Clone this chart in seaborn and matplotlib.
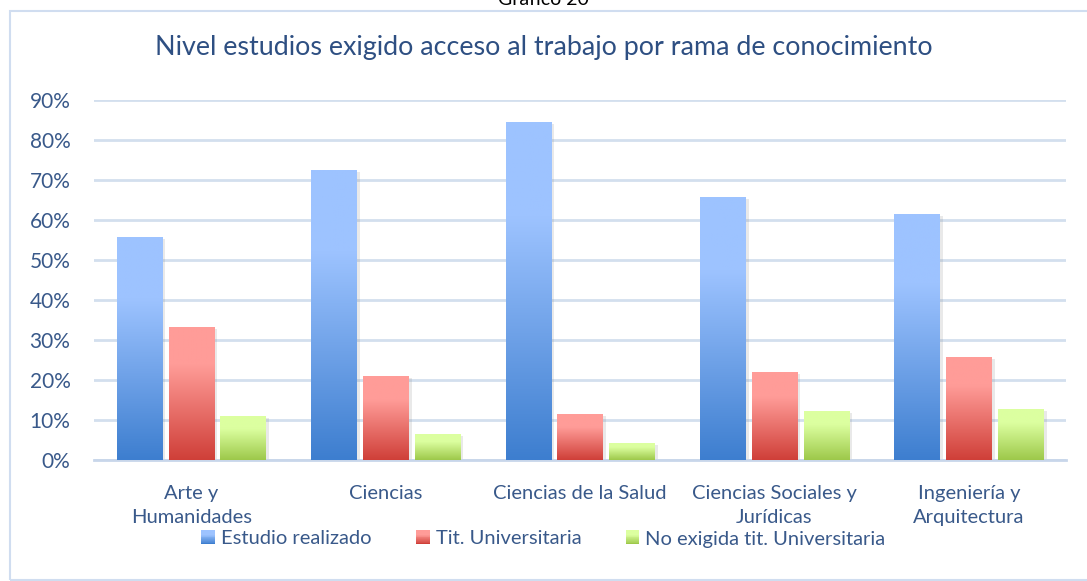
import numpy as np
import pandas as pd
import matplotlib
matplotlib.use("Agg")
import matplotlib.pyplot as plt
import matplotlib.patheffects as pe
from matplotlib.colors import to_rgb, LinearSegmentedColormap
from matplotlib.legend_handler import HandlerBase
from matplotlib.patches import Rectangle, Patch
from matplotlib.ticker import FuncFormatter
import seaborn as sns

# Data (percent)
categorias = ["Arte y\nHumanidades", "Ciencias", "Ciencias de la Salud",
              "Ciencias Sociales y\nJurídicas", "Ingeniería y\nArquitectura"]
series = ["Estudio realizado", "Tit. Universitaria", "No exigida tit. Universitaria"]
estudio_realizado = [55.8, 72.5, 84.5, 65.7, 61.5]
tit_universitaria = [33.2, 21.0, 11.5, 22.0, 25.8]
no_exigida = [11.0, 6.5, 4.3, 12.3, 12.8]

df = pd.DataFrame({
    "Rama": categorias * 3,
    "Serie": [series[0]] * 5 + [series[1]] * 5 + [series[2]] * 5,
    "Valor": estudio_realizado + tit_universitaria + no_exigida,
})

# gradient stops (top, bottom) for each series
grad = {
    series[0]: ("#9DC3FF", "#3D7ECF"),
    series[1]: ("#FF9C98", "#CF3F38"),
    series[2]: ("#DCFFA0", "#9DC84A"),
}
mid = [tuple((np.array(to_rgb(t)) + np.array(to_rgb(b))) / 2) for t, b in grad.values()]

text_col = "#39598A"
title_col = "#2E4F82"
grid_col = "#D3DFEE"

plt.rcParams["font.family"] = ["Lato", "DejaVu Sans"]

fig = plt.figure(figsize=(10.87, 5.81), dpi=100)
ax = fig.add_axes([94 / 1087, 1 - 460 / 581, (1066 - 94) / 1087, 360 / 581])

sns.barplot(data=df, x="Rama", y="Valor", hue="Serie", palette=mid,
            width=0.8, gap=0.13, errorbar=None, legend=False, ax=ax)

# gradient fill on every bar, clipped to the bar itself
for cont, s in zip(ax.containers, series):
    top, bottom = grad[s]
    cmap = LinearSegmentedColormap.from_list(s, [(0, bottom), (0.72, top), (1, top)])
    for bar in cont:
        x0, y0 = bar.get_x(), bar.get_y()
        w, h = bar.get_width(), bar.get_height()
        bar.set_path_effects([pe.SimplePatchShadow(offset=(2.5, -1.5), shadow_rgbFace="#888888", alpha=0.18),
                              pe.Normal()])
        img = ax.imshow(np.linspace(0, 1, 256).reshape(-1, 1), cmap=cmap, origin="lower",
                        extent=[x0, x0 + w, y0, y0 + h], aspect="auto", zorder=3,
                        interpolation="bilinear")
        img.set_clip_path(bar)

ax.set_xlim(-0.5, 4.5)
ax.set_ylim(0, 90)
ax.set_yticks(np.arange(0, 91, 10))
ax.yaxis.set_major_formatter(FuncFormatter(lambda v, p: f"{v:.0f}%"))
ax.set_axisbelow(True)
ax.grid(axis="y", color=grid_col, linewidth=2)
ax.grid(axis="x", visible=False)
for sp in ["top", "right", "left"]:
    ax.spines[sp].set_visible(False)
ax.spines["bottom"].set_color("#C8D6EA")
ax.spines["bottom"].set_linewidth(2)
ax.tick_params(axis="y", length=0, colors=text_col, labelsize=15, pad=17)
ax.tick_params(axis="x", length=0, colors=text_col, labelsize=14.5, pad=18)
ax.set_xlabel("")
ax.set_ylabel("")
for lbl in ax.get_xticklabels():
    lbl.set_linespacing(1.5)

fig.text(0.5, 1 - 47 / 581, "Nivel estudios exigido acceso al trabajo por rama de conocimiento",
         ha="center", va="center", fontsize=19.4, color=title_col)
fig.text(0.5, 1 - 5 / 581, "Gráfico 20", ha="center", va="baseline", fontsize=14, color="black")

fig.add_artist(Rectangle((10 / 1087, 1 - 580 / 581), 1.1, (580 - 11) / 581,
                         transform=fig.transFigure, fill=False, edgecolor="#D0DDF0", linewidth=1.5))


class GradHandler(HandlerBase):
    def __init__(self, top, bottom, n=16):
        super().__init__()
        self.top, self.bottom, self.n = np.array(to_rgb(top)), np.array(to_rgb(bottom)), n

    def create_artists(self, legend, orig_handle, xdescent, ydescent, width, height, fontsize, trans):
        arts = []
        for k in range(self.n):
            f = min(1, k / (self.n - 1) / 0.72)
            c = self.bottom + (self.top - self.bottom) * f
            arts.append(Rectangle((-xdescent, -ydescent + height * k / self.n), width,
                                  height / self.n + 0.3, facecolor=c, edgecolor="none",
                                  transform=trans))
        return arts


handles = [Patch(label=s) for s in series]
leg = fig.legend(handles=handles, labels=series, loc="center", bbox_to_anchor=(0.5, 1 - 539 / 581),
                 ncol=3, frameon=False, fontsize=14.5, handlelength=0.68, handleheight=0.68,
                 handletextpad=0.3, columnspacing=2.2, borderpad=0.1,
                 handler_map={h: GradHandler(*grad[s]) for h, s in zip(handles, series)})
for t in leg.get_texts():
    t.set_color(text_col)

fig.savefig("out.png", dpi=100)
